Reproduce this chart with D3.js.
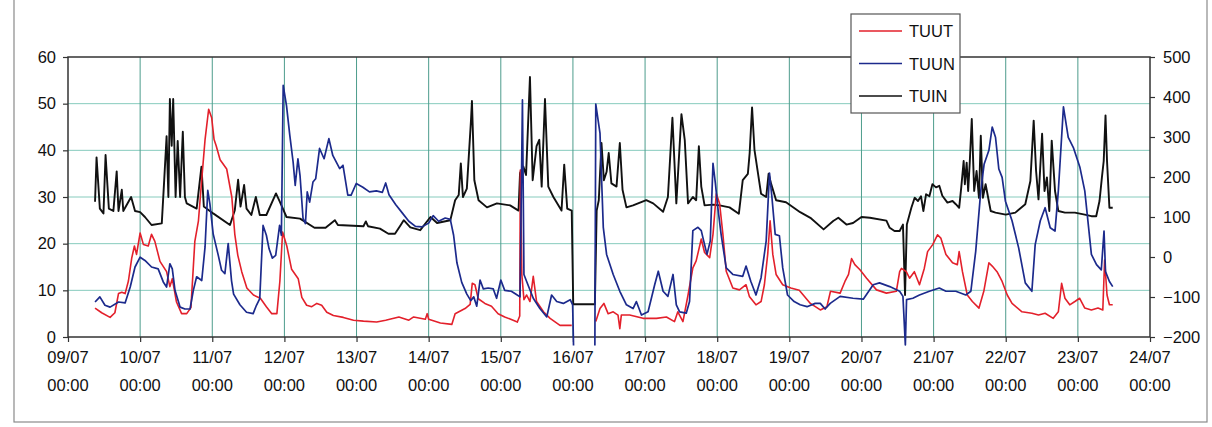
<!DOCTYPE html>
<html>
<head>
<meta charset="utf-8">
<script src="https://cdn.jsdelivr.net/npm/d3@7"></script>
<style>
  body { margin: 0; background: #fff; }
  svg { display: block; font-family: "Liberation Sans", Arial, sans-serif; }
</style>
</head>
<body>
<svg id="chart" width="1212" height="427"></svg>
<script>
// hours since 09/07 00:00
const dayLabels = ["09/07","10/07","11/07","12/07","13/07","14/07","15/07","16/07","17/07","18/07","19/07","20/07","21/07","22/07","23/07","24/07"];
const timeLabel = "00:00";
const leftTicks = [0, 10, 20, 30, 40, 50, 60];
const rightTicks = [-200, -100, 0, 100, 200, 300, 400, 500];
const seriesNames = ["TUUT", "TUUN", "TUIN"];

// TUUT, left axis (null = no data)
const tuut = [[9,6.2],[11.2,5.2],[14,4.2],[15.6,5.2],[16.8,9.3],[17.9,9.6],[19,9.3],[20.1,12],[21.2,16.9],[22.1,19.5],[22.8,17.7],[24,22.3],[25.1,19.8],[26.7,19.5],[27.8,22],[28.9,20.5],[30.6,16.2],[32.8,14],[33.9,10.8],[34.7,12.5],[36.1,7.5],[37.8,5],[39.5,5],[40.9,6.3],[42.2,20.5],[43.4,24.9],[44.4,33],[45.6,42.3],[46.8,48.8],[47.8,47],[48.6,42.3],[49.3,41],[50.6,38],[52.8,36],[54.5,30],[55.5,22],[56.5,17.5],[57.8,14],[59.5,10.5],[61.7,9],[64,8.3],[66,6.5],[67.8,5],[69.5,5],[70.5,12],[71.4,22.5],[72.8,19.5],[74.4,14.5],[76.6,12.5],[77.8,8.5],[79.4,6.8],[81.1,6.5],[82.8,7.2],[84.4,6.8],[86.1,5.3],[88.3,4.6],[91.6,4.2],[95,3.6],[98.3,3.4],[102.7,3.2],[105.7,3.6],[110.1,4.3],[113.4,3.6],[115,4.3],[118.9,3.8],[119.5,5],[120,3.8],[123.9,3],[127.7,2.7],[128.8,5],[132.1,6.1],[133.8,7],[134.5,11.5],[135.4,11.2],[136.5,8.2],[138.7,7.2],[140.9,6.6],[143.1,5],[145.3,4.3],[147.3,3.8],[149.5,3.2],[150.3,4.5],[150.5,35.8],[151,13.4],[151.7,8],[152.6,9],[153.7,7.6],[154.8,13],[155.9,7.6],[158.2,5.4],[160.4,4],[163.7,2.5],[167.6,2.5],[171,null],[175.6,3.3],[177,6.1],[178.3,7.2],[179.7,5],[181.4,5.4],[183,4.7],[183.6,1.8],[184.1,4.7],[186.9,4.7],[191.3,4],[195.8,4],[199.1,4.3],[201.8,3.3],[202.9,5.4],[204.6,3.3],[206.3,9],[207.9,14.8],[209,16.3],[210.7,21],[211.8,18.1],[213.5,17],[214.6,22],[215.7,30.7],[216.8,28.6],[217.9,22],[219,14.1],[221.2,10.5],[223.4,10.1],[225.6,11.2],[226.7,8.7],[228.9,6.9],[230.6,7.6],[231.7,11.2],[232.8,17.7],[233.6,24.9],[234.5,17.7],[235.6,13.4],[237.8,11.2],[240.5,10.5],[243.3,10],[247,7.2],[250.3,5.8],[252.5,6.5],[253.7,9.8],[256.9,9.4],[258.5,11.9],[259.7,13.4],[260.7,16.8],[261.8,15.5],[263.5,14.4],[265.7,12.6],[269,10.1],[272.3,9.4],[275.6,9.8],[276.7,14],[277.3,14.7],[278.9,14],[280,12.6],[281.6,14],[283.3,11.2],[284.9,14.7],[286,18.3],[287.7,19.8],[289.3,21.9],[290.4,21.2],[292.1,17.7],[294.3,15.9],[295.9,15.5],[296.5,18.3],[297.6,14],[299.2,9],[300.9,7.6],[303.1,6.2],[304.7,9.8],[306.4,15.9],[307.5,15.2],[309.1,14],[310.8,11.9],[312.5,9],[314.1,7.2],[317.4,5.4],[320.7,5.1],[322.9,4.7],[325.1,5.1],[327.8,4],[329.5,5.4],[330.6,11.5],[331.7,8.3],[333.3,6.9],[335,7.6],[336.6,8.3],[338.3,6.2],[340.5,5.8],[342.7,6.2],[344.3,5.8],[344.9,16.5],[345.7,9],[346.5,6.9],[347.6,6.9]];

// TUUN, left axis (null = no data)
const tuun = [[9,7.5],[10.6,8.6],[12.3,6.8],[14,6.4],[16.8,7.5],[19,7.3],[20.7,10.7],[22.3,15],[24,17.1],[25.6,16.4],[27.8,15],[30,14.6],[31.7,11.8],[32.8,10.7],[33.9,15.7],[34.7,14.6],[35.6,10],[37.3,6.4],[38.9,6],[40.6,6],[41.7,10],[42.8,12.9],[44.5,12.1],[45.6,19.3],[46.5,31.4],[47.2,28.6],[48.3,22.1],[50,17.5],[51.1,14.3],[52.2,13.6],[53.3,20],[54.4,12.1],[55.1,9.2],[57.2,6.9],[59.4,5.3],[61.6,5],[62.7,6.8],[63.8,8.2],[64.9,23.9],[66,21.8],[66.9,18.9],[68,16.9],[69.1,17.5],[70.4,23.9],[71,21.8],[71.6,53.9],[72.7,49.6],[73.8,43.2],[74.9,37.5],[75.6,32.5],[76.5,38.2],[77.2,34.6],[78.2,25.4],[79,24.3],[79.6,31.1],[80.4,28.9],[81.5,33.2],[82.4,33.9],[83.7,40.4],[85.2,38.2],[86.8,42.5],[88.1,38.9],[90.4,36.1],[91.5,36.8],[93.1,30.4],[94.2,30.4],[95.9,32.9],[98.1,32.1],[100.3,31.1],[102.6,31.3],[104.6,31],[105.7,33],[106.8,30.5],[109,28.4],[111.2,26.6],[113.4,24.8],[115.6,23.7],[117.8,23.6],[120,24.4],[121.5,26],[123.3,24.8],[125.5,25.5],[127.2,25.2],[128.3,21.8],[129.4,15.9],[131,11.7],[132.7,9.2],[134,7.8],[135,8.6],[136,6.6],[137.1,12.2],[138.2,10.3],[139.8,10.5],[141.5,10.3],[142.6,8.3],[144,12.2],[145.3,10],[147.5,9.8],[149.2,9.1],[150.4,8.6],[151.2,50.8],[151.7,13.4],[152.6,11.9],[154.8,8.3],[157,6.1],[159.3,4.3],[160.9,9],[162.6,7.6],[164.8,7.2],[167.1,8],[167.9,6.9],[168.2,-1.8],[171,null],[175.3,-1.8],[175.6,49.9],[177,43.7],[178.1,23.5],[179.2,17.7],[181.4,13.4],[183.6,9.8],[185.8,6.9],[188,6.1],[189.1,7.6],[190.8,4.7],[193,5.4],[195.2,11.2],[196.4,14.1],[198,9.8],[199.6,8.7],[201.3,13.4],[202.4,6.9],[203.5,5.4],[205.7,5.1],[206.8,7.6],[207.9,22.8],[209.6,23.5],[210.7,22.8],[211.5,20.6],[212.6,17.7],[213.7,20.6],[214.6,37.2],[215.4,32.9],[216.2,27.8],[217.3,22],[219,14.8],[221.2,13.4],[224.5,13],[225.6,15.2],[227.2,11.9],[228.9,9],[230.6,12.7],[232.3,20.6],[233.4,35.1],[234.2,30],[235.3,22],[236.7,21.7],[237.8,14.8],[239.4,9],[241.6,7.6],[243.6,6.9],[245.9,6.5],[248.6,7.2],[250.3,7.2],[251.9,6],[253.6,7.2],[256.9,8.7],[261.2,8.3],[264.6,8.1],[267.9,11.2],[270,11.6],[273.4,10.8],[276.7,9.8],[277.8,8.7],[278.6,-1.7],[279,8],[281.1,8.3],[283.3,9],[286.6,9.8],[289.9,10.5],[292.1,9.8],[295.4,9.8],[298.7,9],[300.4,9.8],[302,18.3],[303.7,31.3],[304.8,37],[306.4,40],[307.5,45],[308.6,42.8],[309.7,36],[310.8,34.2],[311.9,29.1],[314.1,24.9],[316.3,19.1],[318.5,11.6],[320.7,9.8],[321.8,19.8],[323.5,24.9],[325.1,27.7],[326.8,23.4],[328.4,22.7],[329.5,31.3],[331.2,49.3],[332.8,42.8],[334.5,40.6],[336.7,36.3],[338.3,31.3],[340.5,17.7],[342.2,15.5],[343.8,14.4],[344.7,22.7],[345.2,14],[346.5,11.9],[347.6,10.8]];

// TUIN, right axis
const tuin = [[9,138],[9.5,249],[10.6,121],[11.8,109],[12.5,255],[13.6,121],[15.1,115],[16.2,214],[16.8,115],[17.9,168],[18.4,115],[21,150],[22.3,115],[24,112],[25.6,100],[27.8,80],[31.2,84],[32,191],[32.8,302],[33.4,150],[33.9,395],[34.5,278],[35,395],[35.8,150],[36.5,290],[37.3,150],[38.2,313],[38.9,150],[39.5,134],[42.8,121],[44.4,226],[45.2,126],[48.3,109],[53.9,80],[55.5,117],[56.6,193],[57.4,126],[58.6,180],[59.4,121],[61,105],[62.5,150],[63.8,105],[66,105],[69.2,159],[70.5,138],[72.7,100],[77.2,96],[82,73],[85.7,73],[88.8,92],[89.8,80],[98.3,77],[99.1,89],[99.8,77],[103.8,71],[106.6,58],[108.8,58],[110.6,79],[111.7,92],[113.9,74],[117.2,67],[120.6,100],[122.8,85],[127.2,92],[128.8,142],[130,155],[130.7,234],[131.4,150],[132.7,171],[134.1,344],[134.4,390],[135.2,192],[136.6,142],[139.4,124],[142.7,134],[147.1,129],[149.9,116],[150.4,210],[151.5,226],[152.4,205],[153.7,450],[154.6,192],[155.9,277],[156.8,293],[157.6,176],[158.7,395],[159.8,176],[161.5,150],[164.2,116],[165.1,231],[166.1,121],[167.6,116],[168.1,-118],[175.3,-118],[175.9,116],[176.6,142],[177.5,285],[178.3,192],[179.2,213],[179.9,260],[180.8,184],[182.5,176],[183.6,285],[184.5,168],[185.8,124],[188,129],[192.4,142],[194.7,134],[198,113],[199.6,150],[201.1,348],[202.4,134],[204.1,357],[205.2,293],[206.3,134],[207.9,150],[209,142],[209.9,277],[210.7,176],[211.8,129],[214.6,131],[216.8,129],[220.1,124],[223.2,108],[224.5,192],[226.2,208],[226.8,260],[227.6,374],[228.4,268],[230.6,158],[232.3,150],[233.1,208],[233.9,184],[235.6,142],[238.9,137],[243.6,112],[247,98],[251.4,69],[254.6,90],[256.3,98],[259,81],[261.2,85],[264,100],[266.8,98],[272.3,91],[273.4,73],[275,65],[276.7,65],[277.8,81],[278.5,-95],[279.1,81],[280.6,123],[281.7,148],[282.8,140],[283.8,152],[284.6,115],[285.5,157],[286.6,152],[287.6,182],[288.8,174],[289.9,178],[290.9,153],[292.6,136],[294.3,140],[295.4,132],[296.5,123],[297.2,174],[298,240],[298.4,182],[299,236],[299.5,165],[300,232],[300.7,345],[301.5,165],[302.3,215],[303.1,148],[303.7,303],[304.4,148],[305.3,182],[307,115],[308.6,111],[312,106],[315.2,111],[318.5,132],[320.2,190],[321.3,341],[322.1,215],[322.9,144],[324.1,308],[324.9,165],[325.7,199],[326.5,115],[327.3,291],[328.4,165],[329.5,115],[331.7,111],[335,111],[338.3,106],[340.5,102],[342.1,102],[343.2,140],[344,199],[344.6,240],[345.2,354],[345.7,240],[346.5,123],[347.6,123]];

const colors = { TUUT: "#e3202b", TUUN: "#1c2a8c", TUIN: "#111111" };

const svg = d3.select("#chart");
const plot = { left: 68, right: 1150, top: 57, bottom: 337 };

// outer chart frame
svg.append("rect")
	.attr("x", 14).attr("y", -2)
	.attr("width", 1193).attr("height", 424)
	.style("fill", "none")
	.style("stroke", "#8a8a8a")
	.style("stroke-width", 1.2);

const x = d3.scaleLinear()
	.domain([0, 360])
	.range([plot.left, plot.right]);

const yL = d3.scaleLinear()
	.domain([0, 60])
	.range([plot.bottom, plot.top]);

const yR = d3.scaleLinear()
	.domain([-200, 500])
	.range([plot.bottom, plot.top]);

const dayHours = dayLabels.map((d, i) => i * 24);

// grid
svg.append("g").selectAll("line")
	.data(leftTicks.slice(1, -1))
	.enter().append("line")
	.attr("x1", plot.left).attr("x2", plot.right)
	.attr("y1", d => yL(d)).attr("y2", d => yL(d))
	.style("stroke", "#86cbbd")
	.style("stroke-width", 1);

svg.append("g").selectAll("line")
	.data(dayHours.slice(1, -1))
	.enter().append("line")
	.attr("x1", d => x(d)).attr("x2", d => x(d))
	.attr("y1", plot.top).attr("y2", plot.bottom)
	.style("stroke", "#4d9c8c")
	.style("stroke-width", 1);

// plot border
svg.append("rect")
	.attr("x", plot.left).attr("y", plot.top)
	.attr("width", plot.right - plot.left).attr("height", plot.bottom - plot.top)
	.style("fill", "none")
	.style("stroke", "#333")
	.style("stroke-width", 1.5);

// axes
const fontSize = "16.5px";

const leftAxis = svg.append("g")
	.attr("transform", "translate(" + plot.left + ",0)")
	.call(d3.axisLeft(yL).tickValues(leftTicks).tickSize(5).tickPadding(7));

const rightAxis = svg.append("g")
	.attr("transform", "translate(" + plot.right + ",0)")
	.call(d3.axisRight(yR).tickValues(rightTicks).tickSize(5).tickPadding(8));

const bottomAxis = svg.append("g")
	.attr("transform", "translate(0," + plot.bottom + ")")
	.call(d3.axisBottom(x).tickValues(dayHours).tickSize(5).tickFormat(""));

[leftAxis, rightAxis, bottomAxis].forEach(a => {
	a.select(".domain").remove();
	a.selectAll("line").style("stroke", "#333").style("stroke-width", 1.2);
	a.selectAll("text")
		.style("font-family", "'Liberation Sans', Arial, sans-serif")
		.style("font-size", fontSize)
		.style("fill", "#111");
});

const dayText = svg.append("g").selectAll("g")
	.data(dayHours)
	.enter().append("g")
	.attr("transform", d => "translate(" + x(d) + ",0)");

dayText.append("text")
	.attr("y", 363)
	.attr("text-anchor", "middle")
	.style("font-size", fontSize)
	.style("fill", "#111")
	.text((d, i) => dayLabels[i]);

dayText.append("text")
	.attr("y", 391)
	.attr("text-anchor", "middle")
	.style("font-size", fontSize)
	.style("fill", "#111")
	.text(timeLabel);

// lines
const lineL = d3.line()
	.defined(d => d[1] != null)
	.x(d => x(d[0]))
	.y(d => yL(d[1]));

const lineR = d3.line()
	.defined(d => d[1] != null)
	.x(d => x(d[0]))
	.y(d => yR(d[1]));

svg.append("path")
	.attr("d", lineR(tuin))
	.style("fill", "none")
	.style("stroke", colors.TUIN)
	.style("stroke-width", 1.9)
	.style("stroke-linejoin", "round");

svg.append("path")
	.attr("d", lineL(tuut))
	.style("fill", "none")
	.style("stroke", colors.TUUT)
	.style("stroke-width", 1.6)
	.style("stroke-linejoin", "round");

svg.append("path")
	.attr("d", lineL(tuun))
	.style("fill", "none")
	.style("stroke", colors.TUUN)
	.style("stroke-width", 1.7)
	.style("stroke-linejoin", "round");

// legend
const legend = svg.append("g")
	.attr("transform", "translate(851,14)");

legend.append("rect")
	.attr("width", 109).attr("height", 99)
	.style("fill", "#fff")
	.style("stroke", "#555")
	.style("stroke-width", 1.2);

const items = legend.selectAll(".item")
	.data(seriesNames)
	.enter().append("g")
	.attr("class", "item")
	.attr("transform", (d, i) => "translate(0," + (17 + i * 32.5) + ")");

items.append("line")
	.attr("x1", 8).attr("x2", 51)
	.style("stroke", d => colors[d])
	.style("stroke-width", 1.6);

items.append("text")
	.attr("x", 58).attr("y", 6)
	.style("font-size", fontSize)
	.style("fill", "#111")
	.text(d => d);
</script>
</body>
</html>
